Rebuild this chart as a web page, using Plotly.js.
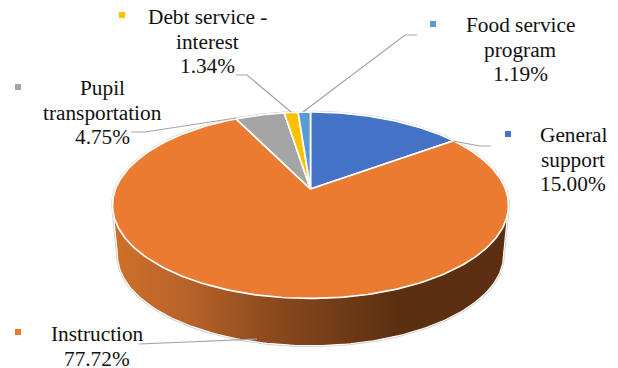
<!DOCTYPE html>
<html>
<head>
<meta charset="utf-8">
<script src="https://cdn.plot.ly/plotly-3.0.1.min.js"></script>
<style>html,body{margin:0;padding:0;background:#fff;overflow:hidden}#chart{width:618px;height:368px}</style>
</head>
<body>
<div id="chart"></div>
<script>
// Budget shares, clockwise from twelve o'clock
const categories = ['General support', 'Instruction', 'Pupil transportation', 'Debt service - interest', 'Food service program'];
const shares = [15.00, 77.72, 4.75, 1.34, 1.19];
const sliceColors = ['#4472C4', '#EA7B31', '#A5A5A5', '#FFC000', '#5B9BD5'];

// Perspective view of the disc, in axis units that equal screen pixels
const hub = {x: 310.5, y: 189};
const radiusX = 195, radiusY = 90.4, tilt = 0.174;
const wallDrop = 50, wallScale = 0.975;

function project(deg, scale, drop) {
  const t = deg * Math.PI / 180;
  const u = Math.sin(t), v = Math.cos(t), w = 1 + tilt * v;
  return [hub.x + scale * radiusX * u / w, hub.y + drop - scale * radiusY * v / w];
}
function arc(from, to, scale, drop) {
  const pts = [], n = Math.max(2, Math.ceil(Math.abs(to - from)));
  for (let i = 0; i <= n; i++) pts.push(project(from + (to - from) * i / n, scale, drop));
  return pts;
}
const xs = p => p.map(q => q[0]);
const ys = p => p.map(q => q[1]);
const edge = 100; // angle of the disc's widest points

const traces = [];

// Thin grey rim around the whole solid
const rim = arc(-edge, edge, 1, 0).concat(arc(edge, 360 - edge, wallScale, wallDrop));
rim.push(rim[0]);
traces.push({type: 'scatter', mode: 'lines', x: xs(rim), y: ys(rim),
  line: {color: '#c8c8c8', width: 2.6}, hoverinfo: 'skip'});

// Shaded outer wall of the largest slice
traces.push({type: 'scatter', mode: 'lines', fill: 'toself', x: xs(rim), y: ys(rim),
  line: {color: '#ffffff', width: 1.2},
  fillgradient: {type: 'horizontal', start: 113, stop: 508, colorscale: [
    [0, '#cf7029'], [0.2, '#b5622a'], [0.38, '#904c1e'], [0.52, '#784019'], [0.72, '#5c2f10'], [1, '#5c2f10']
  ]},
  hoverinfo: 'skip'});

// Top face slices
let running = 0;
shares.forEach((share, i) => {
  const start = running / 100 * 360, end = (running + share) / 100 * 360;
  running += share;
  const outline = [[hub.x, hub.y]].concat(arc(start, end, 1, 0));
  outline.push([hub.x, hub.y]);
  traces.push({type: 'scatter', mode: 'lines', fill: 'toself', name: categories[i],
    x: xs(outline), y: ys(outline), fillcolor: sliceColors[i],
    line: {color: '#ffffff', width: 1.7}, hoverinfo: 'name'});
});

// Small colour keys beside each label
const keyX = [508, 18, 18, 122, 433];
const keyY = [134, 332, 87, 15, 24];
traces.push({type: 'scatter', mode: 'markers', x: keyX, y: keyY,
  marker: {symbol: 'square', size: 6, color: sliceColors}, hoverinfo: 'skip'});

// Label lines; each line is placed on its own for tight leading
const labelLines = [['General', 'support'], ['Instruction'], ['Pupil', 'transportation'], ['Debt service -', 'interest'], ['Food service', 'program']];
const labelX = [573, 97, 102, 207, 520];
const labelTop = [135, 334, 88, 17, 25];
const leading = 24.6;
const annotations = [];
labelLines.forEach((lines, i) => {
  lines.concat(shares[i].toFixed(2) + '%').forEach((text, j) => {
    annotations.push({
      xref: 'x', yref: 'y', x: labelX[i], y: labelTop[i] + j * leading, xanchor: 'center', yanchor: 'middle',
      text: text, showarrow: false, align: 'center', borderpad: 0,
      font: {family: '"Liberation Serif", serif', size: 21.3, color: '#111111'}
    });
  });
});

// Leader lines from each label to its slice
const leaders = [
  'M491,146 L480,146 L453,141',
  'M139,344 L257,339',
  'M131,132 L145,132 L236,118',
  'M236,75 L247,75 L291,112',
  'M417,35 L405,35 L303,112'
];
const shapes = leaders.map(path => ({type: 'path', xref: 'x', yref: 'y', path: path,
  line: {color: '#a5a5a5', width: 1.2}, layer: 'above'}));

Plotly.newPlot('chart', traces, {
  width: 618, height: 368, showlegend: false,
  margin: {l: 0, r: 0, t: 0, b: 0},
  paper_bgcolor: '#ffffff', plot_bgcolor: '#ffffff',
  xaxis: {range: [0, 618], visible: false, fixedrange: true},
  yaxis: {range: [368, 0], visible: false, fixedrange: true},
  annotations: annotations, shapes: shapes
}, {displayModeBar: false, staticPlot: true});
</script>
</body>
</html>
